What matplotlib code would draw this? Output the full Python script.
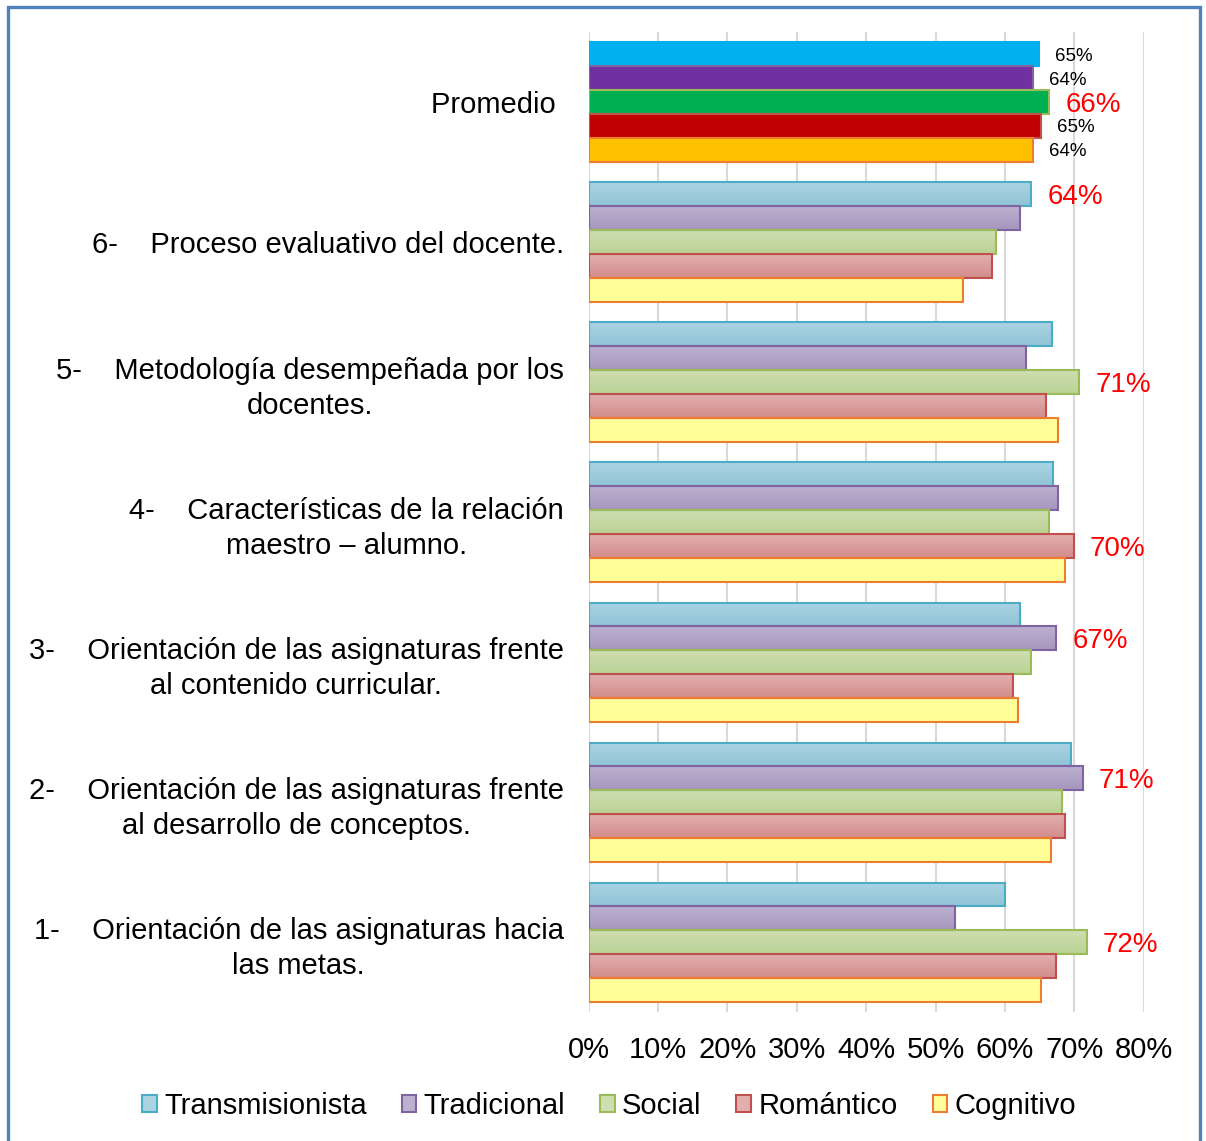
import numpy as np
import matplotlib
matplotlib.use("Agg")
import matplotlib.pyplot as plt
from matplotlib.patches import Rectangle, Patch
from matplotlib.colors import LinearSegmentedColormap

plt.rcParams['font.family'] = ['Liberation Sans', 'DejaVu Sans']

# ---------------- data ----------------
categories = [
    "1-    Orientación de las asignaturas hacia\nlas metas.",
    "2-    Orientación de las asignaturas frente\nal desarrollo de conceptos.",
    "3-    Orientación de las asignaturas frente\nal contenido curricular.",
    "4-    Características de la relación\nmaestro – alumno.",
    "5-    Metodología desempeñada por los\ndocentes.",
    "6-    Proceso evaluativo del docente.",
    "Promedio ",
]
series = ["Transmisionista", "Tradicional", "Social", "Romántico", "Cognitivo"]

transmisionista = [60.0, 69.5, 62.2, 66.9, 66.8, 63.8, 64.9]
tradicional     = [52.8, 71.2, 67.4, 67.6, 63.1, 62.1, 64.1]
social          = [71.8, 68.2, 63.8, 66.3, 70.7, 58.7, 66.4]
romantico       = [67.3, 68.7, 61.1, 69.9, 65.9, 58.2, 65.2]
cognitivo       = [65.2, 66.7, 61.9, 68.6, 67.6, 53.9, 64.1]

xticks = [0, 10, 20, 30, 40, 50, 60, 70, 80]
xticklabels = ["0%", "10%", "20%", "30%", "40%", "50%", "60%", "70%", "80%"]

# ---------------- styles ----------------
grad_top = ["#ABD3E2", "#BDB1D0", "#CFDEB1", "#E3AFAE", "#FFFF9C"]
grad_bot = ["#90C4D6", "#A696BE", "#BAD294", "#D28C8A", "#FFFF96"]
edges = ["#4BACC6", "#8064A2", "#9BBB59", "#C0504D", "#ED7D31"]
prom_colors = ["#00B0F0", "#7030A0", "#00B050", "#C00000", "#FFC000"]
prom_edges = ["#00B0F0", "#8064A2", "#9BBB59", "#C0504D", "#ED7D31"]

W, H = 1206, 1141
fig = plt.figure(figsize=(W / 100, H / 100), dpi=100)
ax = fig.add_axes([588.7 / W, 1 - 1012 / H, 555 / W, 980 / H])

data = [transmisionista, tradicional, social, romantico, cognitivo]
y = np.arange(len(categories))
h = 0.17
offsets = [2 * h, h, 0, -h, -2 * h]
n = len(categories)

grad = np.linspace(1, 0, 64).reshape(-1, 1)
for k, vals in enumerate(data):
    vals = np.asarray(vals)
    fc = [prom_colors[k] if i == n - 1 else "none" for i in range(n)]
    ec = [prom_edges[k] if i == n - 1 else edges[k] for i in range(n)]
    bars = ax.barh(y + offsets[k], vals, height=h, color=fc, edgecolor=ec,
                   linewidth=1.5, zorder=3)
    cmap = LinearSegmentedColormap.from_list("g%d" % k, [grad_bot[k], grad_top[k]])
    for i, p in enumerate(bars.patches):
        if i == n - 1:
            continue
        x0, y0 = p.get_x(), p.get_y()
        im = ax.imshow(grad, extent=[x0, x0 + p.get_width(), y0, y0 + p.get_height()],
                       aspect="auto", cmap=cmap, origin="upper", zorder=2.5,
                       interpolation="bilinear")
        im.set_clip_path(p)

# data labels
arr = np.array(data)  # series x categories
for i in range(n):
    col = arr[:, i]
    kmax = int(np.argmax(col))
    if i == n - 1:
        for k in range(len(series)):
            red = (k == kmax)
            ax.annotate(f"{col[k]:.0f}%", (col[k], y[i] + offsets[k]),
                        xytext=(11.5, 0), textcoords="offset points",
                        ha="left", va="center_baseline",
                        fontsize=20 if red else 13.5,
                        color="#FF0000" if red else "black", zorder=5)
    else:
        ax.annotate(f"{col[kmax]:.0f}%", (col[kmax], y[i] + offsets[kmax]),
                    xytext=(11.5, 0), textcoords="offset points",
                    ha="left", va="center_baseline", fontsize=20, color="#FF0000", zorder=5)

ax.set_xlim(0, 80)
ax.set_ylim(-0.5, n - 0.5)
ax.set_xticks(xticks)
ax.set_xticklabels(xticklabels, fontsize=21)
ax.set_yticks(y)
ax.set_yticklabels(categories, fontsize=21, multialignment="center", linespacing=1.3)
ax.tick_params(axis="both", length=0)
ax.tick_params(axis="x", pad=17)
ax.tick_params(axis="y", pad=18)
for s in ax.spines.values():
    s.set_visible(False)
ax.set_axisbelow(True)
ax.grid(axis="x", color="#D9D9D9", linewidth=1.5, zorder=0)
ax.grid(axis="y", visible=False)

# legend
handles = [Patch(facecolor=(grad_top[k]), edgecolor=edges[k], linewidth=1.5, label=series[k])
           for k in range(len(series))]
fig.legend(handles=handles, loc="center", bbox_to_anchor=(609 / W, 1 - 1106 / H),
           ncol=5, frameon=False, fontsize=21, handlelength=0.5, handleheight=0.5,
           handletextpad=0.25, columnspacing=1.2, borderaxespad=0)

# outer border
fig.patches.append(Rectangle((7.5 / W, -0.02), 1192 / W, 1.02 - 6.5 / H,
                             transform=fig.transFigure, fill=False,
                             edgecolor="#4F81BD", linewidth=2.4, zorder=10))

fig.savefig("out.png", dpi=100)
